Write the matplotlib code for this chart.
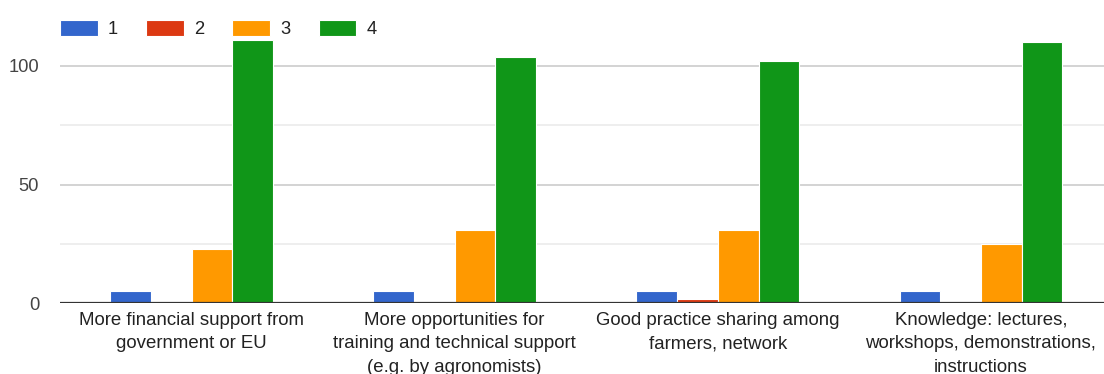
import matplotlib
matplotlib.use("Agg")
import matplotlib.pyplot as plt
import numpy as np

plt.rcParams['font.family'] = ['Liberation Sans', 'DejaVu Sans']

categories = [
    "More financial support from\ngovernment or EU",
    "More opportunities for\ntraining and technical support\n(e.g. by agronomists)",
    "Good practice sharing among\nfarmers, network",
    "Knowledge: lectures,\nworkshops, demonstrations,\ninstructions",
]
series_names = ["1", "2", "3", "4"]
score_1 = [5, 5, 5, 5]
score_2 = [0, 0, 2, 0]
score_3 = [23, 31, 31, 25]
score_4 = [111, 104, 102, 110]
y_ticks = [0, 50, 100]

series = [score_1, score_2, score_3, score_4]
colors = ["#3366cc", "#dc3912", "#ff9900", "#109618"]

W, H = 1104, 374
fig = plt.figure(figsize=(W / 100, H / 100), dpi=100)
left_px, right_px = 60, 1112.5
bottom_px, top_px = 303.3, 30.4
ax = fig.add_axes([left_px / W, (H - bottom_px) / H,
                   (right_px - left_px) / W, (bottom_px - top_px) / H])

x = np.arange(len(categories))
slot = 0.1547
offsets = (np.arange(4) - 1.5) * slot
for vals, name, col, off in zip(series, series_names, colors, offsets):
    ax.bar(x + off, vals, width=slot, color=col, edgecolor="white",
           linewidth=0.8, label=name, zorder=3)

ax.set_xlim(-0.5, len(categories) - 0.5)
ax.set_ylim(0, 115)

# gridlines: stronger at labelled ticks, fainter in between
for v in [25, 75]:
    ax.axhline(v, color="#ebebeb", linewidth=1.2, zorder=1)
for v in [50, 100]:
    ax.axhline(v, color="#cccccc", linewidth=1.2, zorder=1)
ax.axhline(0, color="#333333", linewidth=1.6, zorder=4)

ax.set_yticks(y_ticks)
ax.set_yticklabels([str(t) for t in y_ticks])
ax.set_xticks(x)
ax.set_xticklabels(categories, linespacing=1.5)
ax.tick_params(axis="y", length=0, pad=15, labelsize=13.2, labelcolor="#444444")
ax.tick_params(axis="x", length=0, pad=6, labelsize=13.4, labelcolor="#222222")
for s in ax.spines.values():
    s.set_visible(False)

fig.legend(loc="upper left", bbox_to_anchor=(left_px / W, 1 - 20 / H),
           bbox_transform=fig.transFigure, ncol=4, frameon=False,
           fontsize=13.2, handlelength=2.05, handleheight=0.95,
           handletextpad=0.55, columnspacing=1.55, borderpad=0,
           borderaxespad=0, labelcolor="#222222")

fig.savefig("out.png", dpi=100)
